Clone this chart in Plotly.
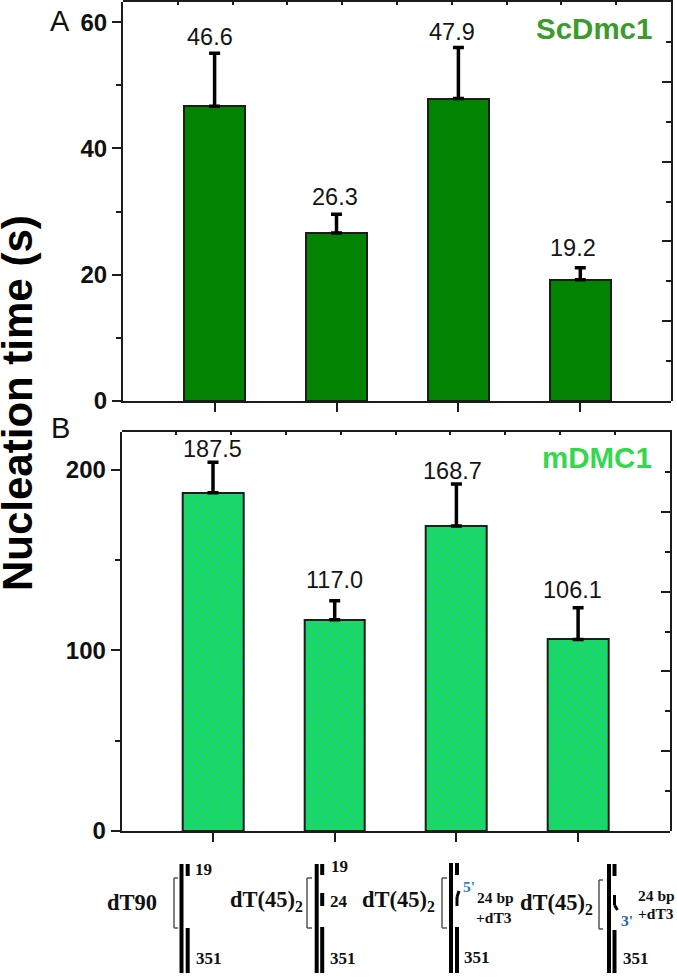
import plotly.graph_objects as go

# ---- data ----
positions = [1, 2, 3, 4]
sc_values = [46.7, 26.6, 47.9, 19.2]
sc_errors = [8.4, 3.0, 8.1, 1.9]
sc_labels = ["46.6", "26.3", "47.9", "19.2"]
m_values = [187.3, 117.0, 168.9, 106.1]
m_errors = [17.0, 10.5, 23.3, 17.6]
m_labels = ["187.5", "117.0", "168.7", "106.1"]

# ---- layout helpers ----
W, H = 677, 977
SANS = "Liberation Sans, Arial, sans-serif"
SERIF = "Liberation Serif, Times New Roman, serif"
INK = "#1c1c1c"
sc_gaps = [16, 17, 15, 20]
m_gaps = [13, 21, 13, 18]
sc_nudges = [-4.6, -1.5, -6.5, -7]
m_nudges = [-1, 0, -4.4, -6]


def px(x):
    return x / W


def py(y):
    return 1 - y / H


def xrange_for(left, right, first_center, spacing):
    return [1 - (first_center - left) / spacing, 1 + (right - first_center) / spacing]


fig = go.Figure()

fig.add_trace(go.Bar(
    x=positions, y=sc_values, width=0.5, xaxis="x", yaxis="y",
    marker=dict(color="#028402", line=dict(color=INK, width=2)),
    error_y=dict(type="data", symmetric=False, array=sc_errors, arrayminus=[0] * 4,
                 color="#000000", thickness=3.5, width=5.5),
    showlegend=False, hoverinfo="skip",
))
fig.add_trace(go.Bar(
    x=positions, y=m_values, width=0.5, xaxis="x2", yaxis="y2",
    marker=dict(color="#22cf7c", line=dict(color=INK, width=2),
                pattern=dict(shape="\\", size=7, solidity=0.25, fgcolor="#00f032", bgcolor="#22cf7c",
                             fillmode="replace")),
    error_y=dict(type="data", symmetric=False, array=m_errors, arrayminus=[0] * 4,
                 color="#000000", thickness=3.5, width=5.5),
    showlegend=False, hoverinfo="skip",
))
# The mirrored top/right scales carry no data; an empty trace keeps each axis pair drawn.
for xa, ya in [("x3", "y3"), ("x4", "y4")]:
    fig.add_trace(go.Scatter(x=[0], y=[0], xaxis=xa, yaxis=ya, mode="none",
                             showlegend=False, hoverinfo="skip"))

A_X = [px(123), px(671)]
A_Y = [py(401), py(2)]
B_X = [px(121.7), px(669.5)]
B_Y = [py(831), py(432)]

line = dict(showline=True, linecolor=INK, linewidth=2, mirror=False, showgrid=False, zeroline=False)
ticks = dict(ticks="outside", tickcolor=INK, tickwidth=2)
ytick_font = dict(family=SANS, size=24, color="#111111", weight=700)
inner_minor = dict(dtick=0.5, ticks="inside", ticklen=5, tickcolor=INK, tickwidth=2)

layout = dict(
    width=W, height=H, margin=dict(l=0, r=0, t=0, b=0, autoexpand=False),
    paper_bgcolor="white", plot_bgcolor="rgba(0,0,0,0)", bargap=0,
    # panel A
    xaxis=dict(domain=A_X, anchor="y", range=xrange_for(123, 671, 214.6, 121.9),
               tickvals=positions, showticklabels=False, ticklen=9, **line, **ticks),
    yaxis=dict(domain=A_Y, anchor="x", range=[0, 63.2], dtick=20, ticklen=9, tickfont=ytick_font,
               minor=dict(dtick=10, ticks="outside", ticklen=5, tickcolor=INK, tickwidth=2), **line, **ticks),
    xaxis3=dict(domain=A_X, anchor="y3", side="top", range=[0, 10], dtick=1,
                showticklabels=False, ticks="inside", ticklen=3, tickcolor=INK, tickwidth=2, **line),
    yaxis3=dict(domain=A_Y, anchor="x3", side="right", range=[0, 5], dtick=1,
                showticklabels=False, ticks="inside", ticklen=9, tickcolor=INK, tickwidth=2,
                minor=inner_minor, **line),
    # panel B
    xaxis2=dict(domain=B_X, anchor="y2", range=xrange_for(121.7, 669.5, 213, 121.7),
                tickvals=positions, showticklabels=False, ticklen=9, **line, **ticks),
    yaxis2=dict(domain=B_Y, anchor="x2", range=[0, 221], dtick=100, ticklen=9, tickfont=ytick_font,
                minor=dict(dtick=50, ticks="outside", ticklen=5, tickcolor=INK, tickwidth=2), **line, **ticks),
    xaxis4=dict(domain=B_X, anchor="y4", side="top", range=[0, 10], dtick=1,
                showticklabels=False, ticks="inside", ticklen=3, tickcolor=INK, tickwidth=2, **line),
    yaxis4=dict(domain=B_Y, anchor="x4", side="right", range=[0, 5], dtick=1,
                showticklabels=False, ticks="inside", ticklen=9, tickcolor=INK, tickwidth=2,
                minor=inner_minor, **line),
)

annotations = []


def text(t, x, y, size, family=SANS, color="#111111", weight=400, angle=0):
    annotations.append(dict(text=t, x=px(x), y=py(y), xref="paper", yref="paper",
                            xanchor="center", yanchor="middle", showarrow=False, textangle=angle,
                            font=dict(family=family, size=size, color=color, weight=weight)))


# value labels, bound to the bars' data coordinates
for xa, ya, vals, errs, labs, gaps, nudges in [
    ("x", "y", sc_values, sc_errors, sc_labels, sc_gaps, sc_nudges),
    ("x2", "y2", m_values, m_errors, m_labels, m_gaps, m_nudges),
]:
    for p, v, e, lab, g, n in zip(positions, vals, errs, labs, gaps, nudges):
        annotations.append(dict(text=lab, x=p, y=v + e, xref=xa, yref=ya, showarrow=False,
                                xanchor="center", yanchor="middle", yshift=g, xshift=n,
                                font=dict(family=SANS, size=23.5, color="#151515")))

text("Nucleation time (s)", 18, 403, 42, weight=700, color="#000000", angle=-90)
text("A", 60, 21, 29)
text("B", 60, 428, 29)
text("ScDmc1", 594, 29, 29.5, weight=700, color="#3d9a2c")
text("mDMC1", 597, 458, 29.5, weight=700, color="#35d84c")

# DNA substrate schematics below the panels
SUB = "dT(45)<sub>2</sub>"
text("dT90", 132, 902, 22.5, SERIF, "#111111", 700)
text(SUB, 266, 901, 22.5, SERIF, "#111111", 700)
text(SUB, 398, 901, 22.5, SERIF, "#111111", 700)
text(SUB, 556, 904, 22.5, SERIF, "#111111", 700)
for t, x, y in [("19", 203, 869), ("351", 209, 958), ("19", 339, 866), ("24", 339, 901), ("351", 343, 958),
                ("351", 477, 957), ("351", 636, 958)]:
    text(t, x, y, 17, SERIF, "#111111", 700)
for t, x, y in [("24 bp", 495, 897), ("+dT3", 494, 917), ("24 bp", 656, 895), ("+dT3", 656, 913)]:
    text(t, x, y, 15.5, SERIF, "#111111", 700)
text("5'", 469, 886, 15.5, SERIF, "#2a7fd0", 700)
text("3'", 627, 920, 15.5, SERIF, "#2a5fa8", 700)

shapes = []


def stroke(x0, y0, x1, y1, w=4, color="#000000"):
    shapes.append(dict(type="line", xref="paper", yref="paper", x0=px(x0), x1=px(x1), y0=py(y0), y1=py(y1),
                       line=dict(color=color, width=w)))


def bracket(x0, x1, y0, y1):
    for a, b, c, d in [(x1, y0, x0, y0), (x0, y0, x0, y1), (x0, y1, x1, y1)]:
        stroke(a, b, c, d, 1.5, "#555555")


bracket(174, 178, 878, 928)
stroke(181.5, 864, 181.5, 973)
stroke(187.7, 864, 187.7, 876)
stroke(187.7, 928, 187.7, 973)

bracket(307, 312, 878, 928)
stroke(316.7, 864, 316.7, 973)
stroke(322.2, 864, 322.2, 875)
stroke(322.2, 893, 322.2, 906)
stroke(322.2, 927, 322.2, 973)

bracket(442, 447, 878, 928)
stroke(451, 863, 451, 973)
stroke(457, 863, 457, 875)
stroke(457, 897, 457, 906, 3)
stroke(457, 897, 459, 891, 3)
stroke(457, 927, 457, 973)

bracket(599, 603, 880, 929)
stroke(609, 864, 609, 973)
stroke(614.5, 864, 614.5, 876)
stroke(614.5, 895, 614.5, 905, 3)
stroke(614.5, 905, 617.5, 910, 3)
stroke(614.5, 930, 614.5, 973)

layout["annotations"] = annotations
layout["shapes"] = shapes
fig.update_layout(**layout)

fig.write_html("out.html", config=dict(displayModeBar=False),
               post_script="document.body.style.margin='0';document.body.style.overflow='hidden';")
